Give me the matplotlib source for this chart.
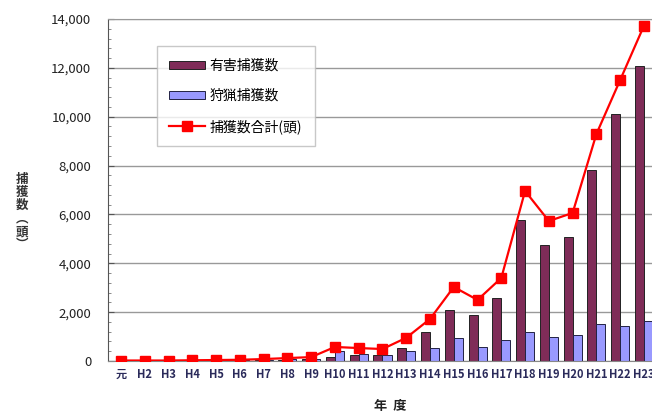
import matplotlib.pyplot as plt
import numpy as np

plt.rcParams['font.family'] = ['Noto Sans CJK JP', 'DejaVu Sans']

# 年度ごとの捕獲数
years = ['元', 'H2', 'H3', 'H4', 'H5', 'H6', 'H7', 'H8', 'H9', 'H10', 'H11', 'H12',
         'H13', 'H14', 'H15', 'H16', 'H17', 'H18', 'H19', 'H20', 'H21', 'H22', 'H23']
harmful = [10, 10, 10, 15, 20, 20, 30, 50, 70, 160, 260, 250,
           530, 1190, 2090, 1880, 2580, 5770, 4750, 5080, 7820, 10110, 12080]
hunting = [10, 10, 10, 15, 20, 30, 50, 70, 90, 400, 270, 240,
           420, 530, 940, 575, 860, 1190, 980, 1060, 1510, 1430, 1640]
total = [20, 20, 20, 30, 40, 50, 80, 120, 160, 575, 530, 490,
         950, 1720, 3030, 2500, 3400, 6960, 5730, 6060, 9290, 11500, 13720]

fig = plt.figure(figsize=(6.52, 4.16), dpi=100)
ax = fig.add_axes([0.1656, 0.1322, 0.8344, 0.8222])

x = np.arange(len(years))
w = 0.38
b1 = ax.bar(x - w / 2, harmful, w, color='#7f2c58', edgecolor='#222222', linewidth=0.7,
            label='有害捕獲数', zorder=2)
b2 = ax.bar(x + w / 2, hunting, w, color='#9999ff', edgecolor='#222244', linewidth=0.7,
            label='狩猟捕獲数', zorder=2)
l1, = ax.plot(x, total, color='#ff0000', linewidth=1.6, marker='s', markersize=7.5,
              label='捕獲数合計(頭)', zorder=3)

ax.set_xlim(-0.55, 22.34)
ax.set_ylim(0, 14000)
ax.set_yticks(np.arange(0, 14001, 2000))
ax.set_yticklabels([f'{v:,}' for v in range(0, 14001, 2000)], fontsize=9.5, color='#222222')
ax.set_yticks(np.arange(0, 14001, 400), minor=True)
ax.set_xticks(x)
ax.set_xticklabels(years, fontsize=8, color='#2a2a5a', fontweight='bold')
ax.tick_params(axis='x', length=0, pad=5)
ax.tick_params(axis='y', which='major', direction='in', length=4, color='#555555', pad=12)
ax.tick_params(axis='y', which='minor', direction='in', length=2.5, color='#777777')
ax.grid(axis='y', color='#999999', linewidth=1.0, zorder=0)

ax.spines['right'].set_visible(False)
ax.spines['top'].set_color('#999999')
ax.spines['left'].set_color('#555555')
ax.spines['bottom'].set_color('#888888')

leg = ax.legend([b1, b2, l1], ['有害捕獲数', '狩猟捕獲数', '捕獲数合計(頭)'],
                loc='upper left', bbox_to_anchor=(0.077, 0.94), fontsize=10,
                frameon=True, fancybox=False, edgecolor='#bbbbbb', labelspacing=1.15,
                handlelength=2.6, handleheight=0.5, handletextpad=0.3, borderpad=0.9)
leg.get_frame().set_linewidth(1.0)

# 縦書きの軸ラベル
fig.text(0.034, 0.49, '捕\n獲\n数\n︵\n頭\n︶', fontsize=9, color='#333333',
         ha='center', va='center', linespacing=1.0, fontweight='bold')
fig.text(0.598, 0.025, '年  度', fontsize=9.5, color='#222222', ha='center', va='center',
         fontweight='bold')

fig.savefig('out.png', dpi=100)
